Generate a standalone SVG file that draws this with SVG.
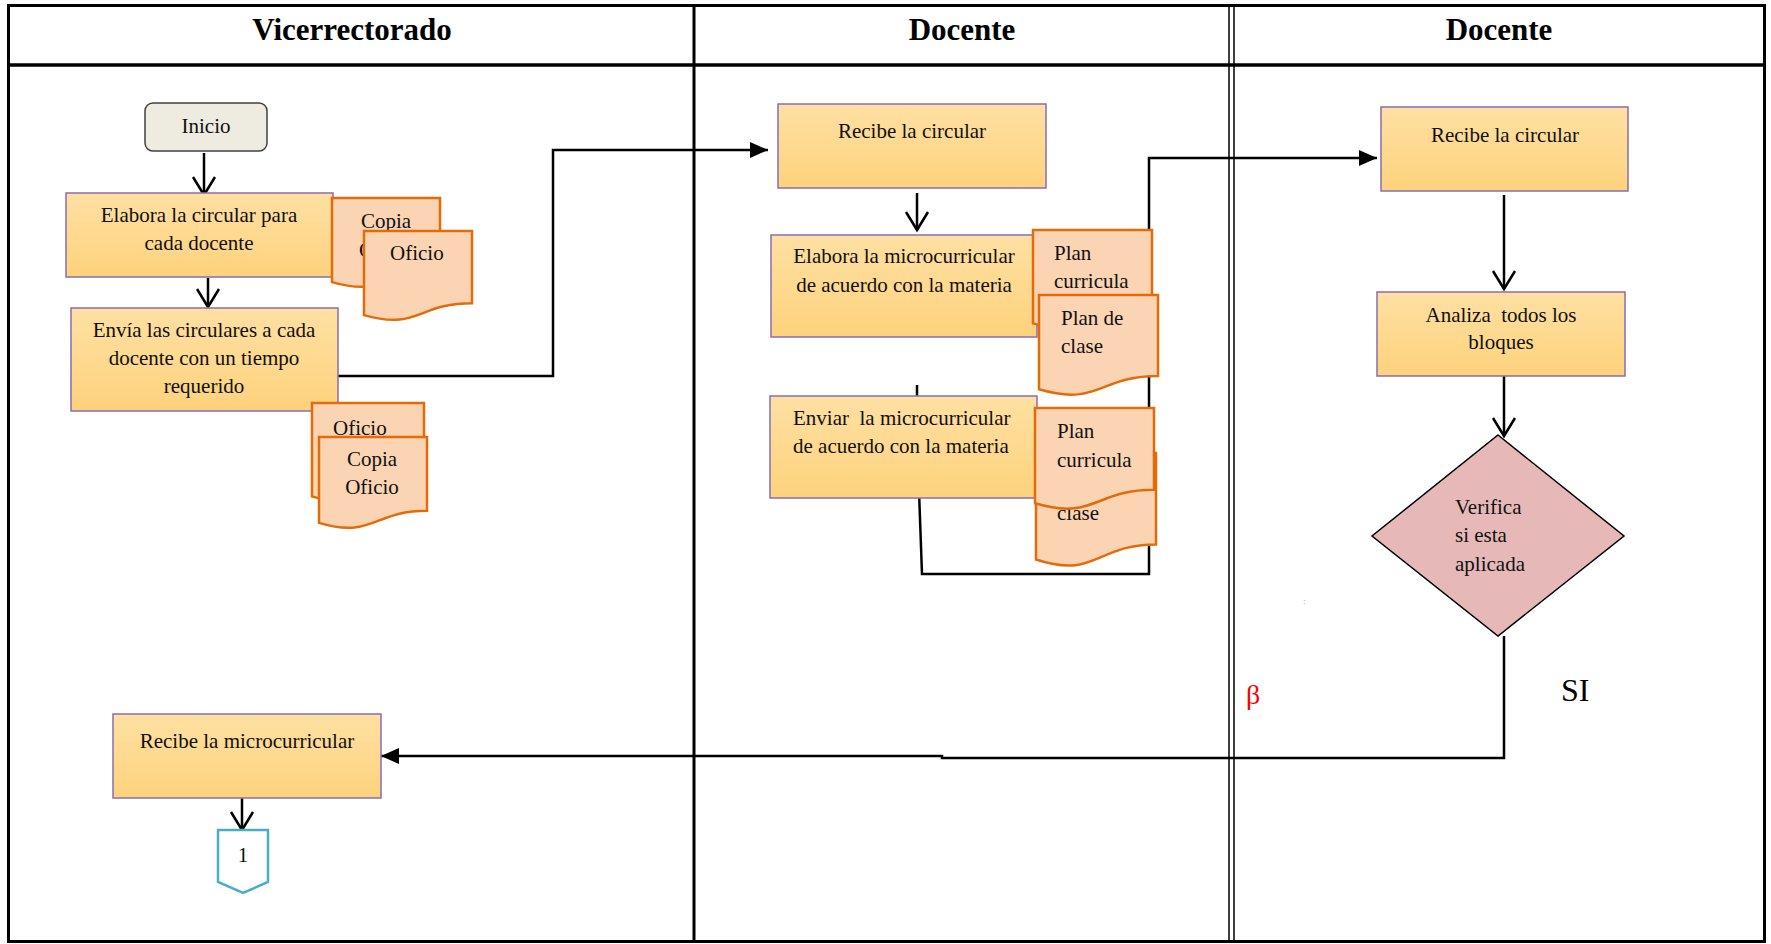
<svg xmlns="http://www.w3.org/2000/svg" width="1771" height="944" viewBox="0 0 1771 944">
<style>
.t{font-family:"Liberation Serif","Times New Roman",serif;font-size:21px;fill:#111}
.c{text-anchor:middle}
.h{font-family:"Liberation Serif","Times New Roman",serif;font-size:31px;font-weight:bold;text-anchor:middle;fill:#000}
.box{fill:url(#gold);stroke:#8A6DB0;stroke-width:1.5}
.doc{fill:#FBD4B4;stroke:#E36C09;stroke-width:2.5}
.ln{fill:none;stroke:#000;stroke-width:2.5}
.frame{fill:none;stroke:#000;stroke-width:3}
</style>
<defs>
<linearGradient id="gold" x1="0" y1="0" x2="0" y2="1">
<stop offset="0" stop-color="#FFE0A3"/>
<stop offset="1" stop-color="#FDD27C"/>
</linearGradient>
<marker id="open" markerUnits="userSpaceOnUse" markerWidth="22" markerHeight="26" viewBox="0 0 22 26" refX="19" refY="13" orient="auto">
<path d="M1,2 L19,13 L1,24" fill="none" stroke="#000" stroke-width="2.5"/>
</marker>
<marker id="fill" markerUnits="userSpaceOnUse" markerWidth="18" markerHeight="16" viewBox="0 0 18 16" refX="18" refY="8" orient="auto">
<path d="M0,0 L18,8 L0,16 Z" fill="#000"/>
</marker>
</defs>
<rect width="1771" height="944" fill="#fff"/>

<g id="lanes">
<rect class="frame" x="8.5" y="5.5" width="1756" height="936"/>
<line x1="8" y1="65" x2="1765" y2="65" stroke="#000" stroke-width="3.5"/>
<line x1="694" y1="4" x2="694" y2="942" stroke="#000" stroke-width="3"/>
<line x1="1229" y1="5" x2="1229" y2="942" stroke="#000" stroke-width="1.5"/>
<line x1="1234" y1="5" x2="1234" y2="942" stroke="#000" stroke-width="1.5"/>
<text class="h" x="352" y="40">Vicerrectorado</text>
<text class="h" x="962" y="40">Docente</text>
<text class="h" x="1499" y="40">Docente</text>
</g>

<g id="connectors">
<line class="ln" x1="204" y1="153" x2="204" y2="195" marker-end="url(#open)"/>
<line class="ln" x1="208" y1="278" x2="208" y2="307" marker-end="url(#open)"/>
<polyline class="ln" points="338,376 553,376 553,150 768,150" marker-end="url(#fill)"/>
<line class="ln" x1="917" y1="193" x2="917" y2="230" marker-end="url(#open)"/>
<line class="ln" x1="917" y1="385" x2="917" y2="396"/>
<polyline class="ln" points="919,491 922,574 1149,574 1149,158 1377,158" marker-end="url(#fill)"/>
<line class="ln" x1="1504" y1="195" x2="1504" y2="289" marker-end="url(#open)"/>
<line class="ln" x1="1504" y1="376" x2="1504" y2="436" marker-end="url(#open)"/>
<polyline class="ln" points="1504,636 1504,758 942,758 942,756 381,756" stroke-width="3" marker-end="url(#fill)"/>
<line class="ln" x1="242" y1="798" x2="242" y2="830" marker-end="url(#open)"/>
</g>

<g id="inicio">
<rect x="145" y="103" width="122" height="48" rx="8" fill="#EEECE1" stroke="#404040" stroke-width="1.5"/>
<text class="t c" x="206" y="133">Inicio</text>
</g>

<g id="elabora-circular">
<rect class="box" x="66" y="193" width="267" height="84"/>
<text class="t c" x="199" y="222">Elabora la circular para</text>
<text class="t c" x="199" y="250">cada docente</text>
</g>

<g id="doc-copia-oficio-1">
<path class="doc" d="M332,198 H440 V270.2 C386,270.2 386,297.7 332,282.1 Z"/>
<text class="t" x="361" y="228">Copia</text>
<text class="t" x="359" y="257">O</text>
</g>
<g id="doc-oficio-1">
<path class="doc" d="M364,231 H472 V303.2 C418,303.2 418,330.7 364,315.1 Z"/>
<text class="t" x="390" y="260">Oficio</text>
</g>

<g id="envia-circulares">
<rect class="box" x="71" y="308" width="267" height="103"/>
<text class="t c" x="204" y="337">Envía las circulares a cada</text>
<text class="t c" x="204" y="365">docente con un tiempo</text>
<text class="t c" x="204" y="393">requerido</text>
</g>

<g id="doc-oficio-2">
<path class="doc" d="M312,403 H424 V483.2 C368,483.2 368,513.8 312,496.4 Z"/>
<text class="t" x="333" y="435">Oficio</text>
</g>
<g id="doc-copia-oficio-2">
<path class="doc" d="M319,437 H427 V510.8 C373,510.8 373,538.9 319,522.9 Z"/>
<text class="t c" x="372" y="466">Copia</text>
<text class="t c" x="372" y="494">Oficio</text>
</g>

<g id="recibe-circular-1">
<rect class="box" x="778" y="104" width="268" height="84"/>
<text class="t c" x="912" y="138">Recibe la circular</text>
</g>

<g id="elabora-micro">
<rect class="box" x="771" y="235" width="266" height="102"/>
<text class="t c" x="904" y="263">Elabora la microcurricular</text>
<text class="t c" x="904" y="292">de acuerdo con la materia</text>
</g>

<g id="doc-plan-curricula-1">
<path class="doc" d="M1033,230 H1152 V310.2 C1092.5,310.2 1092.5,340.8 1033,323.4 Z"/>
<text class="t" x="1054" y="260">Plan</text>
<text class="t" x="1054" y="288">curricula</text>
</g>
<g id="doc-plan-clase-1">
<path class="doc" d="M1039,295 H1158 V376 C1098.5,376 1098.5,406.9 1039,389.3 Z"/>
<text class="t" x="1061" y="325">Plan de</text>
<text class="t" x="1061" y="353">clase</text>
</g>

<g id="enviar-micro">
<rect class="box" x="770" y="396" width="267" height="102"/>
<text class="t" x="793" y="425" xml:space="preserve">Enviar  la microcurricular</text>
<text class="t" x="793" y="453">de acuerdo con la materia</text>
</g>

<g id="doc-plan-clase-2">
<path class="doc" d="M1036,453 H1156 V544.4 C1096,544.4 1096,579.3 1036,559.5 Z"/>
<text class="t" x="1057" y="520">clase</text>
</g>
<g id="doc-plan-curricula-2">
<path class="doc" d="M1035,408 H1154 V489.8 C1094.5,489.8 1094.5,520.9 1035,503.3 Z"/>
<text class="t" x="1057" y="438">Plan</text>
<text class="t" x="1057" y="467">curricula</text>
</g>

<g id="recibe-circular-2">
<rect class="box" x="1381" y="107" width="247" height="84"/>
<text class="t c" x="1505" y="142">Recibe la circular</text>
</g>

<g id="analiza">
<rect class="box" x="1377" y="292" width="248" height="84"/>
<text class="t c" x="1501" y="322" xml:space="preserve">Analiza  todos los</text>
<text class="t c" x="1501" y="349">bloques</text>
</g>

<g id="verifica">
<polygon points="1498,435 1624,536 1498,636 1372,536" fill="#E6B9B8" stroke="#000" stroke-width="1.5"/>
<text class="t" x="1455" y="514">Verifica</text>
<text class="t" x="1455" y="542">si esta</text>
<text class="t" x="1455" y="571">aplicada</text>
</g>

<g id="labels">
<text x="1246" y="704" font-family="Liberation Serif, serif" font-size="28" fill="#FF0000">β</text>
<text x="1561" y="701" font-family="Liberation Serif, serif" font-size="32" fill="#000">SI</text>
<text x="1303" y="604" font-family="Liberation Serif, serif" font-size="9" fill="#999">:</text>
</g>

<g id="recibe-micro">
<rect class="box" x="113" y="714" width="268" height="84"/>
<text class="t c" x="247" y="748">Recibe la microcurricular</text>
</g>

<g id="offpage-1">
<polygon points="218,830 268,830 268,882 243,893 218,882" fill="#fff" stroke="#4BACC6" stroke-width="2.5"/>
<text class="t c" x="243" y="862">1</text>
</g>
</svg>
